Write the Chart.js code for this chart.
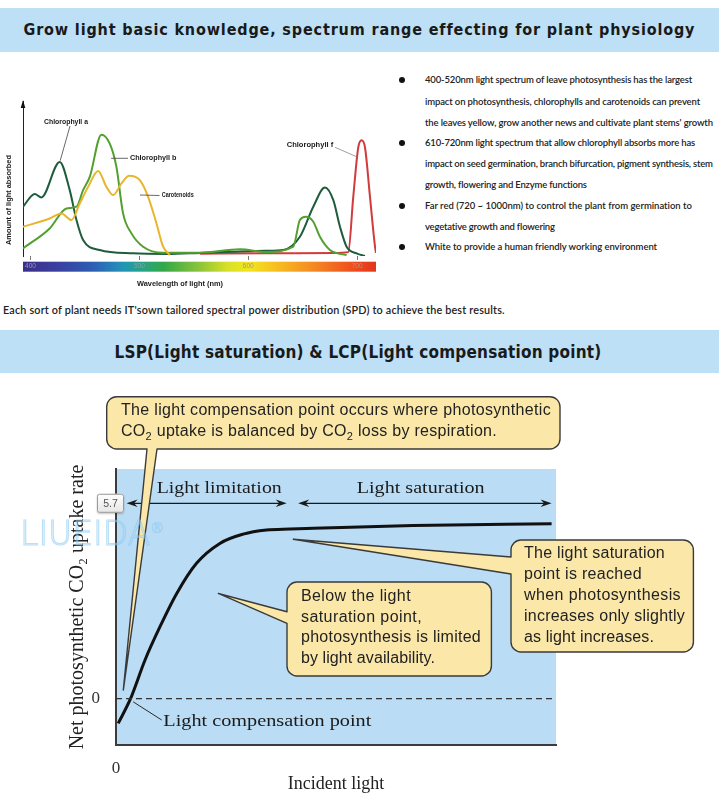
<!DOCTYPE html>
<html>
<head>
<meta charset="utf-8">
<script src="https://cdn.jsdelivr.net/npm/chart.js@4.4.1/dist/chart.umd.min.js"></script>
<style>
body { margin: 0; background: #fff; }
#page { position: relative; width: 719px; height: 799px; overflow: hidden; background: #fff; }
.band { position: absolute; left: 0; width: 719px; background: #bde0f6; }
.ln { position: absolute; white-space: nowrap; line-height: 1.2; color: #1c1c1c; }
.hd { font-family: "DejaVu Sans Condensed", "DejaVu Sans"; font-stretch: condensed; font-weight: bold; color: #1a1a1a; }
.bl { font-family: Lato, "Open Sans"; font-size: 9.5px; font-weight: 600; color: #222; }
.ft { font-family: Lato, "Open Sans"; font-size: 10.8px; font-weight: 600; color: #222; }
.co { font-family: "Liberation Sans", Arial; font-size: 16px; color: #222; }
.dot { position: absolute; width: 6px; height: 6px; border-radius: 50%; background: #111; }
canvas { position: absolute; }
#wm { position: absolute; left: 20px; top: 514px; font-family: "DejaVu Sans"; font-weight: 200; font-size: 33px;
      color: rgba(255,255,255,0.18); -webkit-text-stroke: 1.2px rgba(130,198,240,0.55); white-space: nowrap; }
#wm sup { font-size: 14px; -webkit-text-stroke: 0.8px rgba(130,198,240,0.55); }
</style>
</head>
<body>
<div id="page">
  <div class="band" style="top:8px;height:44px"></div>
  <div class="ln hd" style="font-size:16px" data-cx="359" data-y="30" data-w="671">Grow light basic knowledge, spectrum range effecting for plant physiology</div>

  <canvas id="spec" width="380" height="215" style="left:0;top:80px"></canvas>

  <div class="dot" style="left:399px;top:77px"></div>
  <div class="dot" style="left:399px;top:140px"></div>
  <div class="dot" style="left:399px;top:203px"></div>
  <div class="dot" style="left:399px;top:244px"></div>
  <div class="ln bl" data-x="425" data-y="80" data-w="267">400-520nm light spectrum of leave photosynthesis has the largest</div>
  <div class="ln bl" data-x="425" data-y="102" data-w="275">impact on photosynthesis, chlorophylls and carotenoids can prevent</div>
  <div class="ln bl" data-x="425" data-y="123" data-w="288">the leaves yellow, grow another news and cultivate plant stems' growth</div>
  <div class="ln bl" data-x="425" data-y="143" data-w="270">610-720nm light spectrum that allow chlorophyll absorbs more has</div>
  <div class="ln bl" data-x="425" data-y="164" data-w="288">impact on seed germination, branch bifurcation, pigment synthesis, stem</div>
  <div class="ln bl" data-x="425" data-y="185" data-w="162">growth, flowering and Enzyme functions</div>
  <div class="ln bl" data-x="425" data-y="206" data-w="267">Far red (720 ~ 1000nm) to control the plant from germination to</div>
  <div class="ln bl" data-x="425" data-y="227" data-w="130">vegetative growth and flowering</div>
  <div class="ln bl" data-x="425" data-y="247" data-w="232">White to provide a human friendly working environment</div>

  <div class="ln ft" data-x="3" data-y="310" data-w="502">Each sort of plant needs IT'sown tailored spectral power distribution (SPD) to achieve the best results.</div>

  <div class="band" style="top:330px;height:43px"></div>
  <div class="ln hd" style="font-size:17px" data-cx="358" data-y="352" data-w="487">LSP(Light saturation) &amp; LCP(Light compensation point)</div>

  <canvas id="lsp" width="719" height="424" style="left:0;top:375px"></canvas>

  <div class="ln co" data-x="121" data-y="410" data-w="430">The light compensation point occurs where photosynthetic</div>
  <div class="ln co" data-x="121" data-y="431" data-w="376">CO<sub style="font-size:11px;line-height:0">2</sub> uptake is balanced by CO<sub style="font-size:11px;line-height:0">2</sub> loss by respiration.</div>

  <div class="ln co" data-x="301" data-y="596" data-w="110">Below the light</div>
  <div class="ln co" data-x="301" data-y="617" data-w="121">saturation point,</div>
  <div class="ln co" data-x="301" data-y="637" data-w="180">photosynthesis is limited</div>
  <div class="ln co" data-x="301" data-y="658" data-w="134">by light availability.</div>

  <div class="ln co" data-x="524" data-y="553" data-w="141">The light saturation</div>
  <div class="ln co" data-x="524" data-y="574" data-w="118">point is reached</div>
  <div class="ln co" data-x="524" data-y="595" data-w="157">when photosynthesis</div>
  <div class="ln co" data-x="524" data-y="616" data-w="161">increases only slightly</div>
  <div class="ln co" data-x="524" data-y="637" data-w="130">as light increases.</div>

  <div id="wm">LIUEIDA<sup>®</sup></div>
</div>

<script>
// ---- spectrum chart data ----
const wavelengthTicks = [400, 500, 600, 700];
const chlANm  = [393.1, 403.9, 410, 426.8, 436, 442.2, 448.3, 463.6, 494.2, 524.9, 555.5, 586.2, 616.8, 632.1, 647.4, 659.7, 670.4, 678.1, 684.2, 690.3, 699.5, 707.2];
const chlAAbs = [31.8, 40, 37.8, 60.7, 42.5, 23.2, 10.3, 3.9, 1.7, 1.3, 2, 2.8, 3.4, 3.9, 12.4, 31.8, 44.2, 36, 18.9, 6, 1.7, 0];
const chlBNm  = [393.1, 417.6, 433, 442.2, 448.3, 454.4, 465.1, 472.8, 478.9, 485, 492.7, 503.4, 521.8, 555.5, 592.3, 616.8, 641.3, 647.4, 652.9, 659.7, 665.8, 675, 690.3];
const chlBAbs = [4.9, 17.8, 30.7, 31.8, 42.5, 51, 78.3, 72.5, 57.5, 27.5, 14.6, 6, 2.1, 2.1, 4.3, 2.6, 6, 23.2, 25.3, 22.1, 12.4, 3.9, 0.6];
const carotNm  = [393.1, 417.6, 428.4, 437.6, 445.2, 452.9, 462.1, 469.7, 475.9, 483.5, 490.6, 500.4, 508, 515.7, 521.8, 527.9];
const carotAbs = [18.9, 24.2, 27.5, 23.2, 33.9, 44.6, 54.9, 44.6, 39.3, 46.8, 51.7, 48.9, 38.2, 21, 6, 0.6];
const chlFNm  = [555.5, 616.8, 678.1, 691.8, 696.4, 701, 704.1, 707.2, 711.8, 716.4, 717.3];
const chlFAbs = [1.5, 1.7, 2, 2.5, 38, 70, 74.7, 70, 38, 6, 2];

// ---- light response curve data ----
const incidentLight = [0.5, 3.3, 6.6, 10, 13.8, 18.3, 23.6, 28.9, 34.2, 39.5, 44.8, 67.5, 99];
const co2Uptake     = [-0.72, 0, 1.13, 2.10, 3.07, 3.95, 4.53, 4.80, 4.92, 4.95, 4.97, 5.05, 5.10];
const incidentTicks = [0];
const uptakeTicks = [0];
const zeroLineX = [0, 100];
const markerValue = 5.7;
const limitationSpan = [2.4, 38.8];
const saturationSpan = [41.4, 99];
const lcpTip = [1.66, 0.25];
const belowTip = [23.25, 3.07];
const satTip = [40.3, 4.65];
const lcpPoint = [3.9, -0.09];

function pts(xs, ys) { return xs.map((x, i) => ({x: x, y: ys[i]})); }

function fitText(ctx, txt, x, y, w, font, color) {
  ctx.save();
  ctx.font = font;
  const m = ctx.measureText(txt).width;
  ctx.translate(x, y);
  ctx.scale(w / m, 1);
  ctx.fillStyle = color;
  ctx.textBaseline = 'middle';
  ctx.fillText(txt, 0, 0);
  ctx.restore();
}

function line(ctx, x1, y1, x2, y2, color, lw) {
  ctx.beginPath();
  ctx.moveTo(x1, y1);
  ctx.lineTo(x2, y2);
  ctx.strokeStyle = color;
  ctx.lineWidth = lw;
  ctx.stroke();
}

// color bar + labels for the spectrum
const specPlugin = {
  id: 'spec',
  beforeDraw(chart) {
    const {ctx, chartArea: a} = chart;
    const g = ctx.createLinearGradient(a.left, 0, a.right, 0);
    const stops = [[0, '#3b2e8a'], [0.1, '#3a3fa0'], [0.2, '#2c5fb5'], [0.28, '#2392b8'], [0.33, '#22a38f'],
                   [0.4, '#34a846'], [0.5, '#8cc43a'], [0.58, '#d9e027'], [0.64, '#f3e51e'], [0.72, '#f7bd20'],
                   [0.82, '#f58a22'], [0.93, '#ef4f1e'], [1, '#e2361c']];
    stops.forEach(s => g.addColorStop(s[0], s[1]));
    ctx.fillStyle = g;
    ctx.fillRect(a.left, a.bottom + 5.7, a.right - a.left, 10);
  },
  afterDatasetsDraw(chart) {
    const {ctx, chartArea: a, scales: {x, y}} = chart;
    // arrow on the y axis
    ctx.beginPath();
    ctx.moveTo(a.left, a.top - 1);
    ctx.lineTo(a.left - 2.3, a.top + 7);
    ctx.lineTo(a.left + 2.3, a.top + 7);
    ctx.closePath();
    ctx.fillStyle = '#111';
    ctx.fill();
    const f = 'bold 7px "Liberation Sans"';
    const c = '#1a1a1a';
    fitText(ctx, 'Chlorophyll a', 44, 41.7, 44, f, c);
    line(ctx, 70, 46, x.getPixelForValue(426.8) + 0.5, y.getPixelForValue(61.5), '#444', 0.8);
    fitText(ctx, 'Chlorophyll b', 130, 78.3, 46.5, f, c);
    line(ctx, x.getPixelForValue(474), 78.3, 128, 78.3, '#444', 0.8);
    fitText(ctx, 'Carotenoids', 161.7, 115.5, 32, f, c);
    line(ctx, x.getPixelForValue(500.5), 115, 159.5, 115.5, '#444', 0.8);
    fitText(ctx, 'Chlorophyll f', 286.7, 65, 46.5, f, c);
    line(ctx, 335, 67.3, x.getPixelForValue(699.6), y.getPixelForValue(64), '#888', 0.8);
    // axis titles, placed as in the figure
    fitText(ctx, 'Wavelength of light (nm)', 137, 204, 86, f, c);
    ctx.save();
    ctx.translate(9.5, 165);
    ctx.rotate(-Math.PI / 2);
    fitText(ctx, 'Amount of light absorbed', 0, 0, 90, f, c);
    ctx.restore();
  }
};

new Chart(document.getElementById('spec'), {
  type: 'line',
  data: {
    datasets: [
      {label: 'Carotenoids', data: pts(carotNm, carotAbs), borderColor: '#e8b52c'},
      {label: 'Chlorophyll b', data: pts(chlBNm, chlBAbs), borderColor: '#52a02f'},
      {label: 'Chlorophyll a', data: pts(chlANm, chlAAbs), borderColor: '#1e5c3b'},
      {label: 'Chlorophyll f', data: pts(chlFNm, chlFAbs), borderColor: '#d23a3c'}
    ]
  },
  options: {
    responsive: false,
    animation: false,
    layout: {padding: {left: 5, right: 4, top: 21, bottom: 3}},
    plugins: {legend: {display: false}, tooltip: {enabled: false}},
    elements: {point: {radius: 0}, line: {borderWidth: 2, cubicInterpolationMode: 'monotone'}},
    scales: {
      x: {
        type: 'linear', min: 393.1, max: 717.3,
        afterBuildTicks: s => { s.ticks = wavelengthTicks.map(v => ({value: v})); },
        afterFit: s => { s.height = 36; },
        grid: {display: true, drawOnChartArea: false, drawTicks: true, tickLength: 4, color: '#777'},
        border: {display: false},
        ticks: {font: {size: 6.5, family: 'Liberation Sans'}, color: '#9a9a9a', padding: 2.6, maxRotation: 0, autoSkip: false},
        title: {display: false}
      },
      y: {
        min: 0, max: 100,
        afterFit: s => { s.width = 18; },
        grid: {display: false},
        border: {display: true, color: '#222', width: 1},
        ticks: {display: false},
        title: {display: false}
      }
    }
  },
  plugins: [specPlugin]
});

// ---- light response chart ----
function arrowHead(ctx, x, y, dir) {
  ctx.beginPath();
  ctx.moveTo(x, y);
  ctx.lineTo(x - dir * 11, y - 3.8);
  ctx.lineTo(x - dir * 7.5, y);
  ctx.lineTo(x - dir * 11, y + 3.8);
  ctx.closePath();
  ctx.fillStyle = '#1a1a1a';
  ctx.fill();
}

function bubble(ctx, b, side, p1, p2, tip) {
  const {x, y, w, h} = b;
  const r = 10;
  ctx.beginPath();
  ctx.moveTo(x + r, y);
  ctx.arcTo(x + w, y, x + w, y + h, r);
  ctx.arcTo(x + w, y + h, x, y + h, r);
  if (side === 'bottom') { ctx.lineTo(p2, y + h); ctx.lineTo(tip.x, tip.y); ctx.lineTo(p1, y + h); }
  ctx.arcTo(x, y + h, x, y, r);
  if (side === 'left') { ctx.lineTo(x, p2); ctx.lineTo(tip.x, tip.y); ctx.lineTo(x, p1); }
  ctx.arcTo(x, y, x + w, y, r);
  ctx.closePath();
  ctx.fillStyle = '#fbe8a8';
  ctx.fill();
  ctx.strokeStyle = '#3a3a3a';
  ctx.lineWidth = 1.4;
  ctx.lineJoin = 'round';
  ctx.stroke();
}

const lspPlugin = {
  id: 'lsp',
  beforeDraw(chart) {
    const {ctx, chartArea: a} = chart;
    ctx.fillStyle = '#badcf5';
    ctx.fillRect(a.left, a.top, a.right - a.left, a.bottom - a.top);
  },
  afterDatasetsDraw(chart) {
    const {ctx, scales: {x, y}} = chart;
    const P = (v) => ({x: x.getPixelForValue(v[0]), y: y.getPixelForValue(v[1])});
    const ay = y.getPixelForValue(markerValue);

    // double arrows
    [limitationSpan, saturationSpan].forEach(s => {
      const x1 = x.getPixelForValue(s[0]), x2 = x.getPixelForValue(s[1]);
      line(ctx, x1 + 6, ay, x2 - 6, ay, '#1a1a1a', 1.3);
      arrowHead(ctx, x1, ay, -1);
      arrowHead(ctx, x2, ay, 1);
    });
    const sf = '17px "Liberation Serif"';
    fitText(ctx, 'Light limitation', x.getPixelForValue(9.25), y.getPixelForValue(6.12), 125, sf, '#1a1a1a');
    fitText(ctx, 'Light saturation', x.getPixelForValue(54.7), y.getPixelForValue(6.12), 128, sf, '#1a1a1a');

    // value tag on the axis
    ctx.save();
    ctx.shadowColor = 'rgba(0,0,0,0.25)';
    ctx.shadowBlur = 2;
    ctx.shadowOffsetY = 1;
    const tg = ctx.createLinearGradient(0, ay - 9.5, 0, ay + 9.5);
    tg.addColorStop(0, '#ffffff');
    tg.addColorStop(1, '#e6e6e6');
    ctx.fillStyle = tg;
    ctx.beginPath();
    ctx.roundRect(97, ay - 9.5, 27, 19, 2);
    ctx.fill();
    ctx.restore();
    ctx.strokeStyle = '#9a9a9a';
    ctx.lineWidth = 1;
    ctx.beginPath();
    ctx.roundRect(97.5, ay - 9, 26, 18, 2);
    ctx.stroke();
    ctx.fillStyle = '#555';
    ctx.font = '10.5px "Liberation Sans"';
    ctx.textAlign = 'center';
    ctx.textBaseline = 'middle';
    ctx.fillText(String(markerValue), 110.5, ay + 0.5);
    ctx.textAlign = 'left';

    // light compensation point label
    const lp = P(lcpPoint);
    line(ctx, lp.x, lp.y, 161.7, 345, '#2a2a2a', 1);
    fitText(ctx, 'Light compensation point', x.getPixelForValue(10.75), y.getPixelForValue(-0.67), 208, sf, '#1a1a1a');

    // callouts
    bubble(ctx, {x: 106.7, y: 21.7, w: 453.3, h: 52.3}, 'bottom', 147, 157, P(lcpTip));
    bubble(ctx, {x: 287, y: 207, w: 204.4, h: 94}, 'left', 236.7, 248.3, P(belowTip));
    bubble(ctx, {x: 511, y: 165, w: 182.4, h: 112}, 'left', 182, 199, P(satTip));
  }
};

new Chart(document.getElementById('lsp'), {
  type: 'line',
  data: {
    datasets: [
      {label: 'zero', data: pts(zeroLineX, [0, 0]), borderColor: '#333', borderWidth: 1.3, borderDash: [6, 4]},
      {label: 'Net CO2 uptake', data: pts(incidentLight, co2Uptake), borderColor: '#111', borderWidth: 3,
       cubicInterpolationMode: 'monotone'}
    ]
  },
  options: {
    responsive: false,
    animation: false,
    layout: {padding: {left: 66, right: 163, top: 94, bottom: 4}},
    plugins: {legend: {display: false}, tooltip: {enabled: false}},
    elements: {point: {radius: 0}},
    scales: {
      x: {
        type: 'linear', min: 0, max: 100,
        afterBuildTicks: s => { s.ticks = incidentTicks.map(v => ({value: v})); },
        afterFit: s => { s.height = 50; },
        grid: {display: false},
        border: {display: true, color: '#3c3c3c', width: 2},
        ticks: {font: {size: 17, family: 'Liberation Serif'}, color: '#333', padding: 5, maxRotation: 0},
        title: {display: true, text: 'Incident light', color: '#222',
                font: {size: 18, family: 'Liberation Serif'}, padding: {top: 0, bottom: 0}}
      },
      y: {
        min: -1.35, max: 6.70,
        afterBuildTicks: s => { s.ticks = uptakeTicks.map(v => ({value: v})); },
        afterFit: s => { s.width = 50; },
        grid: {display: false},
        border: {display: true, color: '#3c3c3c', width: 2},
        ticks: {font: {size: 17, family: 'Liberation Serif'}, color: '#333', padding: 8},
        title: {display: true, text: 'Net photosynthetic CO₂ uptake rate', color: '#222',
                font: {size: 20, family: 'Liberation Serif'}, padding: {top: 0, bottom: 0}}
      }
    }
  },
  plugins: [lspPlugin]
});

// place and stretch the html text lines to their widths
function fitLines() {
  document.querySelectorAll('.ln').forEach(el => {
    el.style.letterSpacing = '0px';
    el.style.left = '0px';
    el.style.top = '0px';
    const r = el.getBoundingClientRect();
    const n = el.textContent.length;
    const w = +el.dataset.w;
    const ls = (w - r.width) / n;
    el.style.letterSpacing = ls + 'px';
    const h = el.getBoundingClientRect().height;
    const left = el.dataset.cx ? (+el.dataset.cx - w / 2) : +el.dataset.x;
    el.style.left = left + 'px';
    el.style.top = (+el.dataset.y - h / 2) + 'px';
  });
}
fitLines();
document.fonts.ready.then(fitLines);
</script>
</body>
</html>
